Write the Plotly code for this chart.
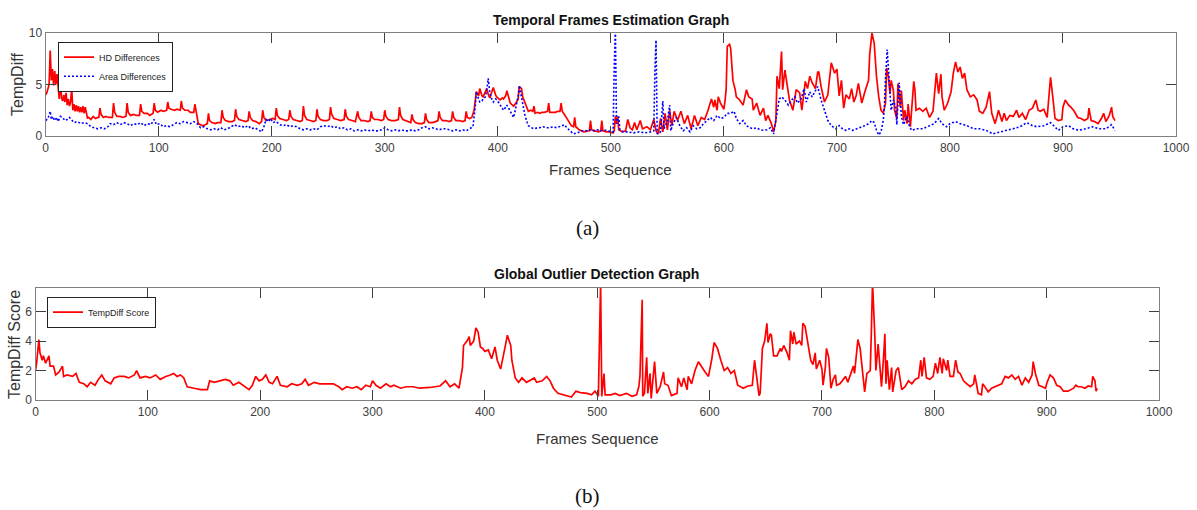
import plotly.graph_objects as go

# ---------------- data ----------------
hd_points = [
    (0, 4.0), (1, 4.2), (2, 4.6), (3, 5.0), (4, 8.3), (5, 5.4), (6, 6.5), (7, 4.9), (8, 6.3), (9, 5.0),
    (10, 6.0), (11, 4.4), (12, 3.6), (13, 5.4), (14, 3.7), (15, 3.4), (16, 4.0), (17, 3.3), (18, 4.2),
    (19, 3.0), (20, 3.6), (21, 2.9), (22, 3.3), (23, 4.7), (24, 2.5), (25, 3.1), (26, 2.4), (27, 3.0),
    (28, 2.4), (29, 2.9), (30, 2.3), (31, 2.8), (32, 2.3), (33, 2.9), (34, 2.2), (35, 2.8), (36, 2.0),
    (37, 1.7), (38, 1.8), (40, 1.6), (42, 1.9), (44, 1.7), (46, 1.8), (47, 1.8), (48, 2.7), (49, 2.1),
    (51, 1.8), (53, 1.9), (56, 1.8), (59, 1.8), (60, 3.2), (61, 2.3), (63, 1.9), (66, 1.9), (68, 1.8),
    (71, 1.9), (72, 3.2), (73, 2.3), (75, 2.0), (78, 2.1), (80, 2.0), (83, 2.0), (84, 3.1), (85, 2.4),
    (87, 2.2), (90, 2.2), (92, 2.0), (95, 2.2), (96, 3.2), (97, 2.5), (99, 2.3), (102, 2.5), (104, 2.4),
    (107, 2.5), (108, 3.3), (109, 2.7), (111, 2.6), (114, 2.5), (116, 2.6), (119, 2.5), (120, 3.4),
    (121, 2.7), (123, 2.5), (126, 2.5), (128, 2.3), (131, 2.3), (132, 3.1), (133, 2.3), (134, 1.6),
    (135, 1.2), (137, 1.1), (139, 1.0), (141, 1.1), (143, 1.2), (144, 2.2), (145, 1.5), (147, 1.3),
    (150, 1.2), (152, 1.3), (155, 1.3), (156, 2.5), (157, 1.8), (159, 1.5), (162, 1.4), (165, 1.4),
    (167, 1.5), (168, 2.6), (169, 1.9), (171, 1.6), (174, 1.5), (177, 1.4), (179, 1.5), (180, 2.4),
    (181, 1.8), (183, 1.5), (186, 1.4), (189, 1.2), (191, 1.4), (192, 2.5), (193, 1.8), (195, 1.5),
    (198, 1.6), (201, 1.7), (203, 1.6), (204, 2.7), (205, 2.0), (207, 1.7), (210, 1.6), (213, 1.5),
    (215, 1.6), (216, 2.5), (217, 1.9), (219, 1.6), (222, 1.5), (225, 1.4), (227, 1.5), (228, 2.9),
    (229, 2.0), (231, 1.6), (234, 1.5), (237, 1.4), (239, 1.5), (240, 2.6), (241, 1.9), (243, 1.6),
    (246, 1.5), (249, 1.5), (251, 1.6), (252, 2.8), (253, 2.1), (255, 1.7), (258, 1.6), (261, 1.5),
    (264, 1.6), (265, 2.6), (266, 1.9), (268, 1.6), (271, 1.5), (274, 1.4), (276, 2.4), (277, 1.8),
    (279, 1.5), (282, 1.5), (285, 1.4), (287, 1.5), (288, 2.4), (289, 1.8), (291, 1.6), (294, 1.6),
    (297, 1.5), (299, 1.6), (300, 2.5), (301, 1.9), (303, 1.6), (306, 1.5), (309, 1.5), (312, 1.6),
    (313, 2.8), (314, 2.0), (316, 1.6), (319, 1.5), (321, 1.4), (323, 1.3), (324, 2.1), (325, 1.6),
    (327, 1.3), (330, 1.2), (333, 1.2), (335, 1.3), (336, 2.2), (337, 1.6), (339, 1.3), (342, 1.3),
    (345, 1.4), (347, 1.5), (348, 2.4), (349, 1.8), (351, 1.5), (354, 1.5), (357, 1.4), (359, 1.5),
    (360, 2.4), (361, 1.8), (363, 1.5), (366, 1.5), (369, 1.4), (371, 1.5), (372, 2.4), (373, 1.8),
    (375, 1.7), (377, 1.8), (379, 2.5), (381, 4.3), (383, 3.9), (384, 4.6), (386, 3.9), (387, 3.8),
    (389, 4.3), (390, 4.6), (392, 3.9), (393, 3.7), (395, 4.4), (396, 4.7), (398, 4.0), (399, 3.8),
    (401, 3.6), (402, 3.5), (404, 3.7), (405, 3.6), (407, 3.9), (408, 4.4), (410, 3.6), (411, 3.2),
    (413, 3.0), (414, 2.9), (416, 3.2), (418, 3.6), (419, 4.8), (421, 4.6), (422, 3.8), (424, 3.3),
    (426, 2.8), (427, 2.4), (429, 2.5), (431, 2.4), (432, 2.9), (433, 2.2), (435, 2.3), (437, 2.2),
    (439, 2.3), (441, 2.3), (444, 2.4), (445, 3.2), (446, 2.3), (449, 2.3), (451, 2.3), (453, 2.4),
    (455, 2.4), (456, 3.2), (457, 2.4), (460, 1.9), (462, 1.5), (465, 1.0), (467, 0.9), (468, 1.8),
    (469, 0.9), (472, 0.6), (476, 0.4), (479, 0.5), (481, 0.5), (482, 1.5), (483, 0.6), (486, 0.5),
    (489, 0.4), (491, 0.5), (492, 1.5), (493, 0.5), (496, 0.4), (499, 0.4), (502, 0.3), (503, 0.5),
    (504, 1.9), (505, 1.2), (506, 1.9), (507, 0.6), (510, 0.4), (513, 0.5), (515, 1.6), (517, 0.8),
    (519, 0.6), (521, 1.3), (523, 0.6), (526, 1.5), (528, 0.7), (530, 0.8), (532, 0.9), (535, 0.6),
    (538, 1.6), (540, 0.5), (542, 0.2), (544, 1.7), (546, 0.4), (548, 2.2), (550, 0.6), (552, 2.5),
    (554, 1.0), (556, 2.4), (559, 1.5), (562, 2.4), (565, 1.2), (568, 2.0), (571, 0.7), (574, 2.0),
    (577, 1.0), (580, 1.8), (583, 1.6), (586, 2.5), (589, 3.6), (591, 2.8), (592, 3.5), (594, 2.5),
    (595, 3.8), (597, 3.2), (598, 3.0), (600, 2.6), (601, 3.4), (602, 4.5), (603, 8.7), (605, 8.9),
    (606, 8.5), (608, 5.4), (610, 4.5), (611, 3.8), (614, 3.5), (617, 3.0), (620, 4.5), (622, 3.8),
    (625, 3.6), (626, 2.5), (629, 3.2), (632, 2.0), (635, 2.7), (637, 1.5), (639, 2.0), (642, 1.2),
    (644, 0.4), (646, 1.5), (647, 5.8), (649, 4.6), (651, 8.2), (652, 4.5), (654, 6.4), (656, 4.8),
    (658, 3.5), (661, 2.5), (664, 4.5), (667, 4.2), (669, 2.5), (672, 5.3), (674, 4.6), (676, 5.8),
    (678, 5.2), (681, 4.6), (683, 6.2), (684, 6.2), (686, 4.8), (689, 3.3), (692, 4.0), (693, 5.1),
    (695, 7.1), (698, 6.1), (700, 6.5), (702, 3.9), (704, 5.4), (706, 2.7), (708, 4.0), (711, 3.6),
    (713, 4.6), (715, 3.3), (717, 3.9), (719, 5.1), (722, 3.2), (725, 4.4), (728, 5.4), (729, 7.9),
    (731, 10.0), (733, 9.0), (735, 5.8), (737, 3.8), (739, 2.5), (741, 2.2), (743, 3.2), (744, 6.6),
    (745.5, 5.8), (747, 4.1), (748, 5.4), (750, 4.4), (751, 2.5), (753, 1.7), (754, 5.1), (756, 2.8),
    (757, 4.4), (759, 1.5), (760, 2.5), (762, 1.2), (763, 3.1), (765, 0.9), (766, 2.2), (768, 5.3),
    (769, 4.5), (770, 2.5), (773, 2.7), (776, 2.4), (779, 2.7), (782, 1.8), (785, 2.4), (788, 6.1),
    (790, 4.1), (792, 6.0), (793, 3.8), (795, 2.5), (798, 3.2), (801, 4.3), (803, 6.1), (805, 7.2),
    (807, 6.2), (809, 6.7), (811, 5.6), (813, 6.1), (815, 4.5), (818, 3.8), (821, 4.0), (824, 3.5),
    (826, 2.4), (829, 2.2), (832, 2.8), (835, 4.3), (837, 2.2), (840, 1.2), (843, 2.5), (846, 1.4),
    (848, 2.2), (850, 1.5), (853, 2.0), (856, 1.9), (859, 2.5), (861, 1.8), (864, 2.2), (867, 1.6),
    (870, 2.5), (873, 2.7), (876, 3.5), (878, 2.5), (880, 2.4), (883, 2.6), (886, 1.8), (887, 3.2),
    (889, 5.7), (891, 3.8), (893, 1.7), (896, 1.5), (899, 1.6), (900, 2.8), (902, 3.5), (905, 3.0),
    (907, 2.8), (910, 2.4), (913, 1.8), (916, 1.7), (919, 1.5), (922, 1.7), (923, 2.7), (925, 1.5),
    (928, 1.4), (931, 1.2), (934, 1.7), (936, 2.2), (938, 1.4), (941, 2.0), (943, 2.8), (944, 1.9),
    (946, 1.5),
]

area_points = [
    (0, 1.5), (2, 1.7), (4, 2.4), (5, 1.6), (6, 1.9), (8, 1.5), (10, 1.8), (11, 1.4), (13, 1.9),
    (15, 1.8), (17, 1.5), (19, 1.6), (21, 1.8), (23, 1.5), (25, 1.3), (28, 1.4), (31, 1.2), (34, 1.3),
    (37, 1.2), (40, 0.9), (43, 0.8), (46, 0.7), (49, 0.8), (52, 0.7), (55, 0.9), (57, 1.2), (60, 1.1),
    (63, 1.3), (66, 1.1), (69, 1.3), (72, 1.2), (75, 1.0), (78, 1.2), (81, 1.1), (84, 1.3), (87, 1.0),
    (90, 1.2), (93, 1.1), (96, 1.6), (98, 1.1), (101, 1.2), (104, 0.9), (107, 1.0), (110, 0.9),
    (113, 1.1), (116, 1.3), (119, 1.2), (122, 1.4), (125, 1.3), (128, 1.2), (131, 1.4), (134, 1.2),
    (137, 0.8), (140, 0.9), (143, 0.7), (146, 0.6), (149, 0.7), (152, 0.6), (155, 0.8), (158, 0.6),
    (161, 0.7), (164, 0.9), (167, 1.1), (170, 0.9), (173, 1.0), (176, 0.8), (179, 1.0), (182, 0.7),
    (185, 0.8), (188, 0.6), (191, 0.4), (193, 0.9), (195, 1.6), (197, 1.4), (199, 1.7), (201, 1.3),
    (204, 1.4), (207, 1.1), (210, 1.0), (213, 1.1), (216, 0.9), (219, 1.0), (222, 0.9), (225, 0.7),
    (228, 0.6), (231, 0.7), (234, 0.6), (237, 0.7), (240, 0.6), (243, 0.9), (246, 1.0), (249, 0.9),
    (252, 1.0), (255, 0.8), (258, 0.9), (261, 0.7), (264, 0.8), (267, 0.6), (270, 0.7), (273, 0.5),
    (276, 0.6), (279, 0.5), (282, 0.6), (285, 0.5), (288, 0.6), (291, 0.5), (294, 0.5), (297, 0.6),
    (300, 0.8), (303, 0.6), (306, 0.5), (309, 0.6), (312, 0.5), (315, 0.6), (318, 0.5), (321, 0.5),
    (324, 0.6), (327, 0.5), (330, 0.6), (333, 0.8), (336, 0.9), (339, 0.7), (342, 0.8), (345, 0.7),
    (348, 0.6), (351, 0.7), (354, 0.7), (357, 0.6), (360, 0.5), (363, 0.6), (366, 0.5), (369, 0.6),
    (372, 0.5), (375, 0.7), (378, 0.9), (380, 2.8), (381, 4.3), (383, 3.6), (384, 3.3), (386, 3.4),
    (387, 3.6), (389, 3.8), (390, 4.3), (391.5, 5.6), (393, 4.1), (395, 3.5), (396, 3.3), (398, 3.6),
    (399, 3.5), (401, 3.2), (402, 3.0), (404, 2.7), (405, 2.5), (407, 2.8), (408, 3.0), (410, 2.6),
    (411, 2.4), (413, 2.0), (414, 1.8), (416, 2.8), (418, 3.9), (419, 4.9), (421, 3.8), (423, 2.6),
    (424, 2.0), (426, 1.3), (427, 1.0), (430, 0.8), (432, 0.7), (435, 0.8), (437, 0.8), (440, 0.9),
    (443, 0.8), (446, 0.8), (449, 0.9), (452, 0.8), (455, 0.9), (457, 1.0), (459, 1.1), (461, 0.8),
    (464, 0.5), (467, 0.2), (470, 0.3), (473, 0.4), (476, 0.55), (479, 0.5), (482, 0.6), (485, 0.5),
    (488, 0.6), (491, 0.5), (494, 0.6), (497, 0.5), (500, 0.4), (502, 0.4), (503, 6.7), (504, 10.5),
    (505, 1.2), (507, 1.9), (508, 0.6), (511, 0.4), (515, 0.4), (520, 0.3), (525, 0.4), (530, 0.3),
    (535, 0.4), (538, 0.5), (539, 6.5), (540, 9.3), (541, 0.2), (544, 0.4), (546, 3.4), (547, 0.7),
    (550, 1.4), (552, 3.0), (553, 0.5), (555, 1.2), (558, 1.8), (561, 1.0), (564, 0.5), (567, 0.8),
    (570, 0.4), (573, 1.0), (576, 0.7), (579, 0.8), (582, 1.2), (585, 1.5), (588, 1.8), (591, 1.5),
    (594, 2.0), (597, 1.7), (600, 1.8), (603, 2.2), (606, 2.2), (609, 2.4), (611, 1.7), (614, 1.2),
    (617, 1.5), (620, 1.0), (623, 0.8), (626, 0.7), (629, 0.8), (632, 0.6), (635, 0.55), (638, 0.6),
    (641, 0.8), (644, 0.2), (647, 2.5), (649, 3.6), (651, 3.8), (654, 3.5), (657, 3.0), (660, 3.5),
    (663, 3.8), (665, 3.2), (668, 3.5), (671, 4.6), (673, 3.3), (676, 4.3), (678, 3.8), (681, 4.5),
    (683, 4.8), (686, 3.5), (689, 2.5), (692, 1.5), (695, 1.0), (699, 0.7), (702, 1.0), (705, 0.7),
    (708, 0.55), (711, 0.7), (714, 0.55), (717, 0.65), (720, 0.8), (722, 0.9), (725, 1.0), (728, 1.2),
    (731, 1.5), (733, 1.3), (735, 0.55), (737, 0.1), (739, 0.4), (741, 1.5), (742, 2.8), (743, 5.6),
    (744.5, 8.4), (747, 4.1), (748, 2.5), (750, 3.5), (752, 2.8), (753, 1.1), (755, 5.2), (756, 3.8),
    (757, 1.9), (759, 1.1), (762, 1.9), (764, 1.0), (766, 0.55), (770, 0.7), (776, 0.7), (782, 1.0),
    (786, 1.2), (790, 1.7), (793, 1.2), (797, 0.9), (800, 1.2), (805, 1.4), (809, 1.2), (815, 1.0),
    (821, 0.7), (826, 0.7), (832, 0.55), (838, 0.2), (844, 0.4), (850, 0.55), (856, 0.7), (862, 0.9),
    (868, 1.3), (873, 1.0), (877, 0.9), (883, 1.0), (889, 1.3), (892, 1.0), (896, 0.55), (900, 0.9),
    (905, 1.0), (909, 0.7), (914, 0.55), (920, 0.7), (926, 0.9), (932, 0.7), (938, 0.7), (943, 1.1),
    (946, 0.55),
]

score_points = [
    (0, 2.0), (1, 2.5), (3, 4.1), (4, 3.2), (6, 2.7), (7, 3.0), (9, 2.5), (10, 2.7), (12, 3.0),
    (13, 2.3), (16, 2.3), (18, 1.7), (21, 1.9), (24, 2.3), (25, 1.6), (28, 1.7), (33, 1.6), (36, 1.8),
    (39, 1.2), (43, 1.1), (46, 0.9), (49, 1.2), (53, 1.0), (56, 1.4), (59, 1.7), (62, 1.3), (67, 1.1),
    (70, 1.5), (74, 1.6), (79, 1.6), (83, 1.5), (88, 1.7), (90, 2.0), (93, 1.5), (98, 1.6), (102, 1.5),
    (107, 1.7), (111, 1.4), (116, 1.6), (120, 1.7), (123, 1.8), (126, 1.6), (129, 1.7), (132, 1.5),
    (135, 0.9), (141, 0.8), (147, 0.7), (153, 0.7), (155, 1.3), (159, 1.2), (165, 1.3), (169, 1.4),
    (173, 1.3), (176, 1.0), (181, 1.2), (185, 1.0), (190, 0.7), (193, 1.0), (196, 1.6), (199, 1.3),
    (202, 1.4), (205, 1.7), (208, 1.2), (211, 1.1), (215, 1.6), (218, 1.0), (224, 0.9), (228, 1.1),
    (233, 1.0), (237, 1.1), (240, 1.4), (243, 1.0), (248, 1.2), (253, 1.1), (259, 1.1), (265, 1.1),
    (270, 0.9), (273, 0.7), (277, 0.9), (282, 0.8), (286, 0.9), (290, 0.7), (294, 1.0), (298, 0.9),
    (300, 1.3), (303, 1.0), (307, 0.8), (312, 1.1), (316, 0.9), (319, 1.0), (325, 0.8), (330, 0.9),
    (336, 0.9), (342, 0.8), (351, 0.85), (360, 0.95), (365, 1.3), (369, 0.9), (373, 1.1), (377, 0.8),
    (380, 2.2), (381, 3.7), (384, 4.0), (386, 4.3), (387, 3.7), (390, 4.0), (392, 4.9), (394, 4.6),
    (396, 3.6), (398, 3.5), (400, 3.3), (403, 3.4), (406, 2.8), (409, 3.6), (411, 2.7), (414, 2.1),
    (418, 3.6), (420, 4.4), (423, 3.7), (424, 2.7), (427, 1.5), (430, 1.2), (433, 1.5), (437, 1.2),
    (444, 1.5), (446, 1.2), (451, 1.3), (455, 1.6), (458, 1.3), (461, 0.8), (465, 0.45), (470, 0.35),
    (474, 0.3), (477, 0.2), (481, 0.6), (485, 0.5), (491, 0.45), (495, 0.35), (498, 0.6), (501, 0.25),
    (503, 8.0), (504, 0.25), (506, 1.8), (507, 0.35), (512, 0.35), (516, 0.45), (520, 0.3), (526, 0.45),
    (531, 0.25), (535, 0.35), (537, 0.9), (538, 1.6), (540, 6.8), (540.5, 0.25), (542, 0.45), (544, 2.9),
    (545, 0.45), (547, 1.8), (548, 0.1), (551, 2.6), (553, 0.45), (556, 0.9), (559, 1.9), (560, 1.1),
    (563, 1.0), (566, 0.3), (571, 0.45), (572, 1.5), (575, 0.9), (577, 1.5), (580, 0.7), (581, 1.6),
    (584, 1.1), (587, 2.0), (590, 2.6), (593, 2.2), (596, 1.9), (599, 1.6), (602, 2.8), (604, 3.9),
    (607, 3.5), (610, 2.7), (613, 2.0), (616, 2.2), (619, 1.8), (622, 2.0), (625, 1.0), (630, 0.8),
    (634, 0.95), (638, 1.0), (640, 2.7), (642, 1.5), (644, 0.3), (645, 0.45), (647, 3.5), (649, 4.0),
    (651, 5.2), (652, 3.9), (654, 4.5), (655, 4.4), (657, 3.0), (660, 3.0), (663, 3.5), (664, 3.3),
    (666, 3.7), (669, 3.2), (671, 2.7), (672, 4.7), (674, 3.8), (675, 4.6), (677, 3.8), (680, 4.0),
    (682, 3.7), (683, 5.2), (685, 5.0), (688, 3.6), (690, 2.7), (692, 2.4), (694, 3.2), (695, 2.1),
    (698, 2.7), (700, 2.1), (701, 1.0), (703, 2.2), (704, 3.5), (706, 2.9), (708, 0.8), (710, 1.4),
    (712, 1.7), (713, 1.0), (716, 1.1), (719, 1.4), (721, 1.6), (723, 1.2), (725, 1.7), (728, 2.3),
    (729, 1.8), (732, 4.1), (734, 3.5), (736, 2.0), (738, 0.55), (740, 1.8), (743, 2.0), (744, 4.7),
    (745, 8.0), (747, 4.5), (748, 2.0), (750, 3.8), (751, 2.9), (753, 0.9), (755, 3.1), (756, 4.5),
    (757, 1.1), (758, 2.7), (760, 0.7), (762, 2.2), (763, 0.55), (765, 1.6), (766, 2.0), (768, 2.2),
    (769, 1.6), (771, 0.7), (774, 0.9), (777, 1.3), (780, 1.1), (783, 1.4), (786, 1.5), (788, 2.7),
    (789, 1.6), (791, 2.9), (793, 1.5), (796, 1.4), (799, 1.6), (801, 2.5), (803, 1.8), (805, 2.9),
    (807, 1.8), (808, 2.8), (811, 2.0), (812, 2.7), (814, 1.6), (817, 1.6), (819, 2.7), (821, 1.9),
    (823, 1.8), (826, 1.3), (829, 1.1), (832, 0.9), (835, 1.1), (836, 1.7), (838, 0.9), (839, 0.45),
    (842, 0.35), (843, 1.1), (845, 0.9), (848, 0.55), (851, 0.8), (854, 0.9), (857, 1.0), (860, 1.1),
    (863, 1.6), (866, 1.5), (869, 1.7), (872, 1.4), (875, 1.6), (878, 1.0), (881, 1.5), (884, 1.2),
    (887, 1.7), (888, 2.6), (890, 1.8), (893, 1.0), (896, 0.9), (899, 0.8), (900, 1.1), (903, 1.7),
    (906, 1.5), (909, 1.0), (912, 0.9), (915, 0.6), (919, 0.6), (924, 0.8), (926, 1.0), (928, 0.9),
    (931, 0.9), (934, 0.8), (937, 0.95), (940, 0.9), (941, 1.6), (943, 1.3), (944, 0.6), (945, 0.8),
]

x_ticks = [0, 100, 200, 300, 400, 500, 600, 700, 800, 900, 1000]
top_y_ticks = [0, 5, 10]
bottom_y_ticks = [0, 2, 4, 6]

# ---------------- figure ----------------
W, H = 1197, 510
FONT = "Liberation Sans, Arial, sans-serif"


def px(x):
    return x / W


def py(y):
    return 1 - y / H


fig = go.Figure()

fig.add_trace(go.Scatter(
    x=[p[0] for p in hd_points], y=[p[1] for p in hd_points],
    mode="lines", name="HD Differences", line=dict(color="#ff0000", width=1.7),
    xaxis="x", yaxis="y", legend="legend"))
fig.add_trace(go.Scatter(
    x=[p[0] for p in area_points], y=[p[1] for p in area_points],
    mode="lines", name="Area Differences", line=dict(color="#0000ff", width=1.6, dash="2px,2px"),
    xaxis="x", yaxis="y", legend="legend"))
fig.add_trace(go.Scatter(
    x=[p[0] for p in score_points], y=[p[1] for p in score_points],
    mode="lines", name="TempDiff Score", line=dict(color="#ff0000", width=1.7),
    xaxis="x2", yaxis="y2", legend="legend2"))

axis_common = dict(
    showline=True, linecolor="#808080", linewidth=1.3, mirror="ticks",
    ticks="inside", ticklen=10, tickwidth=1, tickcolor="#404040",
    showgrid=False, zeroline=False, automargin=False,
    tickfont=dict(family=FONT, size=12, color="#404040"),
)

fig.update_layout(
    width=W, height=H,
    margin=dict(l=0, r=0, t=0, b=0, autoexpand=False),
    paper_bgcolor="white", plot_bgcolor="white",
    xaxis=dict(domain=[px(45.7), px(1176)], anchor="y", range=[0, 1000],
               tickvals=x_ticks, **axis_common),
    yaxis=dict(domain=[py(136), py(33)], anchor="x", range=[0, 10],
               tickvals=top_y_ticks, **axis_common),
    xaxis2=dict(domain=[px(35.5), px(1159)], anchor="y2", range=[0, 1000],
                tickvals=x_ticks, **axis_common),
    yaxis2=dict(domain=[py(400), py(288)], anchor="x2", range=[0, 7.6],
                tickvals=bottom_y_ticks, **axis_common),
    legend=dict(x=px(58), y=py(41.7), xanchor="left", yanchor="top",
                bgcolor="white", bordercolor="#222222", borderwidth=1,
                font=dict(family=FONT, size=9, color="#222222"),
                tracegroupgap=0, itemwidth=30),
    legend2=dict(x=px(47), y=py(296.7), xanchor="left", yanchor="top",
                 bgcolor="white", bordercolor="#222222", borderwidth=1,
                 font=dict(family=FONT, size=9, color="#222222"),
                 itemwidth=30),
    showlegend=True,
)

annotations = [
    dict(text="<b>Temporal Frames Estimation Graph</b>", x=px(611), y=py(20),
         font=dict(family=FONT, size=14, color="#111111")),
    dict(text="Frames Sequence", x=px(610), y=py(170),
         font=dict(family=FONT, size=15, color="#333333")),
    dict(text="TempDiff", x=px(18), y=py(85), textangle=-90,
         font=dict(family=FONT, size=16, color="#333333")),
    dict(text="(a)", x=px(587), y=py(228),
         font=dict(family="Liberation Serif, Times New Roman, serif", size=21, color="#111111")),
    dict(text="<b>Global Outlier Detection Graph</b>", x=px(596), y=py(274),
         font=dict(family=FONT, size=14, color="#111111")),
    dict(text="Frames Sequence", x=px(597), y=py(438),
         font=dict(family=FONT, size=15, color="#333333")),
    dict(text="TempDiff Score", x=px(14), y=py(345), textangle=-90,
         font=dict(family=FONT, size=16, color="#333333")),
    dict(text="(b)", x=px(587), y=py(496),
         font=dict(family="Liberation Serif, Times New Roman, serif", size=21, color="#111111")),
]
for a in annotations:
    a.update(xref="paper", yref="paper", showarrow=False, xanchor="center", yanchor="middle")
fig.update_layout(annotations=annotations)

fig.write_html("out.html")
